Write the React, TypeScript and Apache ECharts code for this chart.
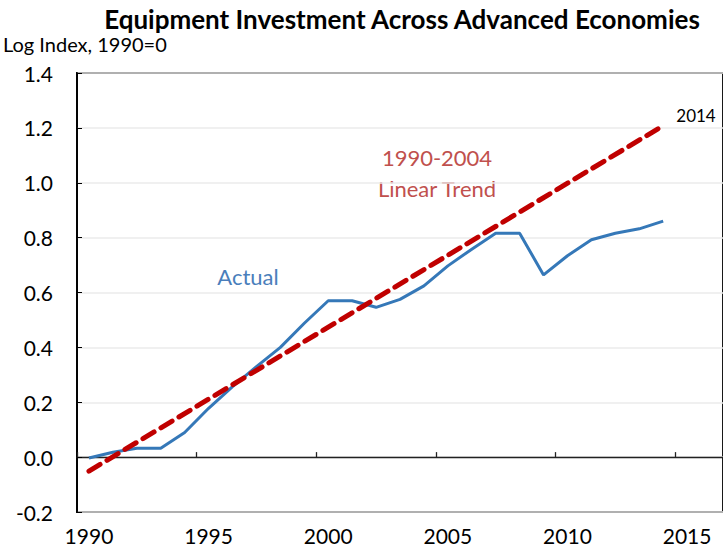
import React, { useEffect, useRef } from "react";
import * as echarts from "echarts";

const years: string[] = [
  "1990","1991","1992","1993","1994","1995","1996","1997","1998","1999",
  "2000","2001","2002","2003","2004","2005","2006","2007","2008","2009",
  "2010","2011","2012","2013","2014","2015","2016",
];
const actual: (number | null)[] = [
  -0.003, 0.018, 0.032, 0.032, 0.09, 0.178, 0.257, 0.33, 0.40, 0.488,
  0.57, 0.57, 0.546, 0.575, 0.624, 0.697, 0.758, 0.816, 0.816, 0.664,
  0.734, 0.792, 0.816, 0.832, 0.86, null, null,
];
// linear trend endpoints (1990 and 2014)
const trend: (number | null)[] = [
  -0.051, null, null, null, null, null, null, null, null, null,
  null, null, null, null, null, null, null, null, null, null,
  null, null, null, null, 1.208, null, null,
];
const yTicks = { min: -0.2, max: 1.4, interval: 0.2 };

const FONT = "Lato, 'Noto Sans', sans-serif";

export default function App() {
  const ref = useRef<HTMLDivElement>(null);
  useEffect(() => {
    document.body.style.margin = "0";
    const chart = echarts.init(ref.current!, null, { renderer: "svg" });
    chart.setOption({
      animation: false,
      textStyle: { fontFamily: FONT },
      grid: {
        left: 77, right: -5, top: 73, bottom: 38,
        show: true, borderColor: "#000", borderWidth: 1.8,
        backgroundColor: "transparent",
      },
      title: {
        text: "Equipment Investment Across Advanced Economies",
        left: 397, top: 1, textAlign: "center",
        textStyle: { fontFamily: FONT, fontWeight: "bold", fontSize: 26, color: "#000" },
      },
      graphic: [
        { type: "text", left: 3, top: 34, style: { text: "Log Index, 1990=0", font: `20px ${FONT}`, fill: "#000" } },
        { type: "text", x: 248, y: 276, style: { text: "Actual", font: `22px ${FONT}`, fill: "#4a7ebb", align: "center", verticalAlign: "middle" } },
        { type: "text", x: 437, y: 157, style: { text: "1990-2004", font: `22px ${FONT}`, fill: "#c0504d", align: "center", verticalAlign: "middle" } },
        { type: "text", x: 437, y: 188, style: { text: "Linear Trend", font: `22px ${FONT}`, fill: "#c0504d", align: "center", verticalAlign: "middle" } },
        { type: "text", x: 696, y: 115, style: { text: "2014", font: `17px ${FONT}`, fill: "#000", align: "center", verticalAlign: "middle" } },
      ],
      xAxis: [
        {
          type: "category", data: years, boundaryGap: true, position: "bottom",
          axisLine: { show: false, onZero: false },
          axisTick: { show: false },
          axisLabel: { interval: 4, margin: 13, fontSize: 21, color: "#000", fontFamily: FONT },
          splitLine: { show: false },
        },
        {
          type: "category", data: years, boundaryGap: true, position: "bottom",
          axisLine: { show: true, onZero: true, lineStyle: { color: "#222", width: 1.3 } },
          axisTick: { show: true, inside: true, interval: 4, length: 5, lineStyle: { color: "#222", width: 1.3 } },
          axisLabel: { show: false },
          splitLine: { show: false },
        },
      ],
      yAxis: {
        type: "value", min: yTicks.min, max: yTicks.max, interval: yTicks.interval,
        axisLine: { show: true, lineStyle: { color: "#000", width: 1.8 } },
        axisTick: { show: true, inside: true, length: 5, lineStyle: { color: "#000" } },
        axisLabel: { margin: 24, fontSize: 21, color: "#000", fontFamily: FONT, formatter: (v: number) => v.toFixed(1) },
        splitLine: { show: true, lineStyle: { color: "#ebebeb", width: 1.5 } },
      },
      series: [
        {
          type: "line", name: "Actual", data: actual, xAxisIndex: 0,
          symbol: "none", lineStyle: { color: "#3578b8", width: 3 }, z: 3,
        },
        {
          type: "line", name: "Trend", data: trend, xAxisIndex: 0, connectNulls: true,
          symbol: "none", lineStyle: { color: "#c00000", width: 5, type: [13, 8], cap: "round" }, z: 4,
        },
      ],
    });
    return () => chart.dispose();
  }, []);
  return <div ref={ref} style={{ width: 723, height: 550 }} />;
}
